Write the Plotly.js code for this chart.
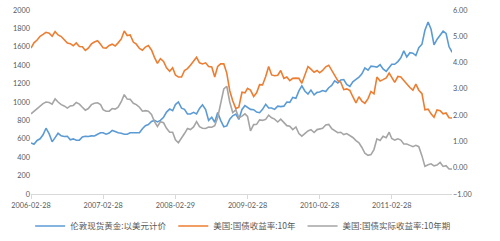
<!DOCTYPE html>
<html>
<head>
<meta charset="utf-8">
<script src="https://cdn.plot.ly/plotly-3.0.1.min.js"></script>
<style>html,body{margin:0;padding:0;background:#fff;}#chart{width:500px;height:241px;}</style>
</head>
<body>
<div id="chart"></div>
<script>
// Sampling dates: 2006-02-28, then mid-month and month-end through 2011-12
const startDate = "2006-02-28";
const tickVals = ["2006-02-28","2007-02-28","2008-02-29","2009-02-28","2010-02-28","2011-02-28"];
const tickText = ["2006-02-28","2007-02-28","2008-02-29","2009-02-28","2010-02-28","2011-02-28"];

// London spot gold, USD
const gold = [556,
  540,582, 600,644, 715,653, 567,613, 660,633, 625,627, 590,599, 585,586, 620,628, 625,632,
  630,650, 665,665, 650,662, 690,679, 665,660, 650,650, 665,665, 665,665, 710,743, 755,789, 800,783, 800,834,
  890,923, 905,972, 1000,933, 920,871, 870,888, 870,930, 970,918, 800,834, 780,885, 800,730, 740,814, 850,869,
  810,919, 960,942, 920,916, 890,884, 920,975, 935,934, 920,955, 950,955, 1000,996, 1050,1040, 1120,1175, 1120,1087,
  1130,1078, 1105,1108, 1125,1113, 1155,1180, 1230,1207, 1240,1244, 1190,1169, 1220,1246, 1270,1307, 1370,1346, 1390,1386, 1380,1405,
  1360,1333, 1375,1411, 1410,1439, 1480,1556, 1490,1536, 1530,1505, 1590,1628, 1780,1870, 1790,1620, 1680,1722, 1770,1746, 1600,1540];

// US 10Y treasury yield
const y10 = [4.55,
  4.75,4.86, 5.00,5.07, 5.15,5.12, 5.00,5.18, 5.05,4.99, 4.85,4.74, 4.72,4.64, 4.75,4.61, 4.60,4.46, 4.55,4.71,
  4.78,4.83, 4.70,4.56, 4.55,4.65, 4.70,4.63, 4.75,4.90, 5.20,5.03, 5.05,4.78, 4.70,4.54, 4.47,4.59, 4.65,4.48, 4.20,3.97, 4.15,4.04,
  3.80,3.67, 3.80,3.53, 3.45,3.45, 3.70,3.77, 3.90,4.06, 4.20,3.99, 3.95,3.99, 3.85,3.83, 3.45,3.85, 3.95,3.95, 3.60,2.93, 2.55,2.25,
  2.30,2.87, 2.85,3.02, 2.95,2.71, 2.85,3.16, 3.15,3.47, 3.85,3.53, 3.50,3.52, 3.70,3.40, 3.45,3.31, 3.40,3.41, 3.40,3.21, 3.55,3.85,
  3.75,3.63, 3.70,3.61, 3.70,3.84, 3.90,3.69, 3.50,3.31, 3.25,2.97, 3.00,2.94, 2.70,2.47, 2.70,2.53, 2.45,2.63, 2.90,2.81, 3.45,3.30,
  3.35,3.42, 3.60,3.42, 3.25,3.47, 3.45,3.32, 3.17,3.05, 2.95,3.18, 2.95,2.82, 2.20,2.23, 2.05,1.92, 2.20,2.17, 2.05,2.08, 1.90,1.89];

// US 10Y real (TIPS) yield
const real10 = [2.05,
  2.15,2.27, 2.35,2.44, 2.50,2.48, 2.42,2.62, 2.50,2.40, 2.35,2.27, 2.35,2.37, 2.48,2.42, 2.30,2.19, 2.25,2.40,
  2.45,2.47, 2.40,2.21, 2.15,2.15, 2.25,2.23, 2.30,2.51, 2.78,2.61, 2.60,2.45, 2.40,2.30, 2.15,2.17, 2.15,2.03, 1.75,1.57, 1.75,1.71,
  1.50,1.35, 1.35,1.06, 0.95,1.12, 1.30,1.49, 1.45,1.55, 1.75,1.56, 1.50,1.49, 1.55,1.54, 1.60,1.91, 2.45,3.00, 3.10,2.50, 2.10,2.20,
  1.90,1.96, 2.05,1.95, 1.40,1.64, 1.65,1.82, 1.80,1.84, 2.00,1.90, 1.85,1.74, 1.85,1.71, 1.60,1.58, 1.45,1.55, 1.30,1.20, 1.30,1.40,
  1.45,1.34, 1.45,1.46, 1.50,1.63, 1.65,1.49, 1.40,1.33, 1.35,1.26, 1.30,1.23, 1.15,1.03, 0.95,0.77, 0.55,0.47, 0.50,0.69, 1.10,1.04,
  1.20,1.14, 1.35,1.11, 1.05,1.10, 1.05,0.90, 0.90,0.85, 0.80,0.85, 0.80,0.45, 0.05,0.11, 0.15,0.07, 0.10,0.20, 0.05,0.08, -0.05,-0.05];

const names = ["伦敦现货黄金:以美元计价", "美国:国债收益率:10年", "美国:国债实际收益率:10年期"];

function pad(n){ return (n<10?"0":"") + n; }
const dates = [startDate];
for (let y = 2006; y <= 2011; y++) {
  for (let m = (y === 2006 ? 3 : 1); m <= 12; m++) {
    const last = new Date(Date.UTC(y, m, 0)).getUTCDate();
    dates.push(y + "-" + pad(m) + "-15");
    dates.push(y + "-" + pad(m) + "-" + pad(last));
  }
}

const lineW = 1.6;
const traces = [
  {x: dates, y: gold, name: names[0], type: "scatter", mode: "lines", line: {color: "#5B9BD5", width: lineW}, yaxis: "y", legend: "legend"},
  {x: dates, y: y10, name: names[1], type: "scatter", mode: "lines", line: {color: "#ED7D31", width: lineW}, yaxis: "y2", legend: "legend2"},
  {x: dates, y: real10, name: names[2], type: "scatter", mode: "lines", line: {color: "#A5A5A5", width: lineW}, yaxis: "y2", legend: "legend3"}
];

const tickFont = {family: "Lato, 'Liberation Sans', sans-serif", size: 7.3, color: "#595959"};
function leg(xp) {
  return {orientation: "h", x: xp, xanchor: "left", xref: "paper",
          y: 0.062, yanchor: "middle", yref: "container",
          font: {family: "'Noto Sans CJK SC', sans-serif", size: 8.5, color: "#595959"},
          itemwidth: 30, bgcolor: "rgba(0,0,0,0)", borderwidth: 0};
}
const layout = {
  width: 500, height: 241,
  margin: {l: 31, r: 48, t: 10, b: 47},
  paper_bgcolor: "#fff", plot_bgcolor: "#fff",
  showlegend: true,
  legend: leg(-0.002),
  legend2: leg(0.338),
  legend3: leg(0.645),
  xaxis: {type: "date", range: ["2006-02-28", "2011-12-30"], tickvals: tickVals, ticktext: tickText,
          showgrid: false, zeroline: false, showline: true, linecolor: "#D9D9D9", linewidth: 1,
          ticks: "outside", ticklen: 4, tickcolor: "#D9D9D9", tickfont: tickFont},
  yaxis: {range: [0, 2000], dtick: 200, tick0: 0, showgrid: false, zeroline: false, showline: false,
          ticks: "", tickfont: tickFont},
  yaxis2: {range: [-1, 6], dtick: 1, tick0: -1, overlaying: "y", side: "right", tickformat: ".2f",
           showgrid: false, zeroline: false, showline: false, ticks: "", tickfont: tickFont}
};

Plotly.newPlot("chart", traces, layout, {displayModeBar: false, staticPlot: true});
</script>
</body>
</html>
